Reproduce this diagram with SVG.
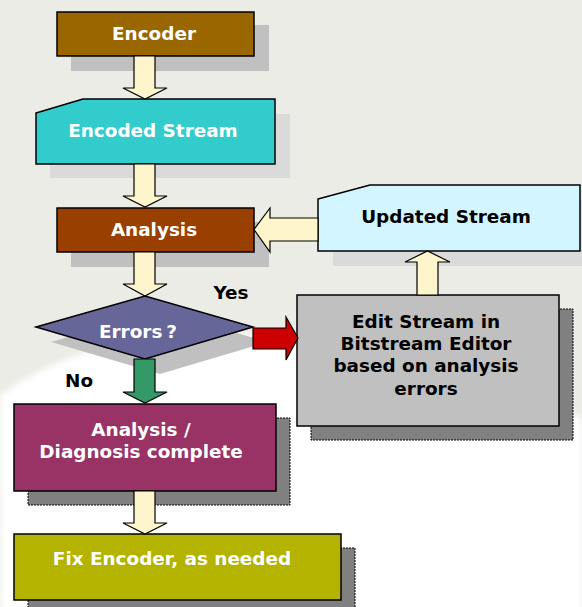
<svg xmlns="http://www.w3.org/2000/svg" width="582" height="607" viewBox="0 0 582 607">
<style>
.t{font-family:"DejaVu Sans",Verdana,sans-serif;font-weight:bold;font-size:18.4px;text-anchor:middle}
.w{fill:#ffffff}
.k{fill:#000000}
.box{stroke:#000;stroke-width:1.5}
.sh1{fill:#C0C0C0}
.sh2{fill:#DADADA}
.sh3{fill:#808080;stroke:#000;stroke-width:1;stroke-dasharray:2,1}
.arr{fill:#FFF5CC;stroke:#000;stroke-width:1.2}
</style>
<defs>
<filter id="blur" x="-10%" y="-10%" width="120%" height="120%"><feGaussianBlur stdDeviation="3"/></filter>
</defs>
<rect width="582" height="607" fill="#ECECE6"/>
<path d="M0,395 C40,368 90,345 160,335 C260,322 420,360 582,418 L582,620 L0,620 Z" fill="#ffffff" filter="url(#blur)"/>

<g id="encoder">
<rect class="sh1" x="71" y="25" width="198" height="46"/>
<rect class="box" x="57" y="12" width="197" height="44" fill="#996600"/>
<text class="t w" x="154" y="40">Encoder</text>
</g>

<g id="encoded-stream">
<rect class="sh2" x="50" y="114" width="240" height="64"/>
<polygon class="box" points="36,113 83,99 275,99 275,164 36,164" fill="#33CCCC"/>
<text class="t w" x="153" y="137">Encoded Stream</text>
</g>

<g id="analysis">
<rect class="sh1" x="71" y="222" width="198" height="45"/>
<rect class="box" x="57" y="208" width="197" height="44" fill="#993F00"/>
<text class="t w" x="154" y="236">Analysis</text>
</g>

<g id="errors">
<polygon class="sh1" points="51,342 160,311 268,342 160,374"/>
<polygon class="box" points="36,327 145,296 253,327 145,359" fill="#666699"/>
<text class="t w" x="138" y="338">Errors<tspan dx="4">?</tspan></text>
</g>

<g id="updated-stream">
<rect class="sh2" x="333" y="200" width="260" height="66"/>
<polygon class="box" points="318,199 370,185 580,185 580,251 318,251" fill="#D3F5FF"/>
<text class="t k" x="446" y="223">Updated Stream</text>
</g>

<g id="edit-stream">
<rect class="sh3" x="311" y="309" width="262" height="131"/>
<rect class="box" x="297" y="295" width="262" height="131" fill="#C0C0C0"/>
<text class="t k" x="426" y="328">Edit Stream in</text>
<text class="t k" x="426" y="350">Bitstream Editor</text>
<text class="t k" x="426" y="372">based on analysis</text>
<text class="t k" x="426" y="395">errors</text>
</g>

<g id="diagnosis-complete">
<rect class="sh3" x="28" y="418" width="262" height="87"/>
<rect class="box" x="14" y="404" width="262" height="87" fill="#993366"/>
<text class="t w" x="141" y="436">Analysis /</text>
<text class="t w" x="141" y="458">Diagnosis complete</text>
</g>

<g id="fix-encoder">
<rect class="sh3" x="28" y="548" width="327" height="66"/>
<rect class="box" x="14" y="534" width="327" height="66" fill="#B3B300"/>
<text class="t w" x="172" y="565">Fix Encoder, as needed</text>
</g>

<g id="connectors">
<polygon class="arr" points="134,56 155,56 155,88 167,88 145,99 123,88 134,88"/>
<polygon class="arr" points="134,164 155,164 155,196 167,196 145,207 123,196 134,196"/>
<polygon class="arr" points="134,252 155,252 155,284 167,284 145,296 123,284 134,284"/>
<polygon points="134,359 155,359 155,392 167,392 145,403 123,392 134,392" fill="#339966" stroke="#000" stroke-width="1.2"/>
<polygon points="253,328 286,328 286,317 298,338 286,360 286,349 253,349" fill="#CC0000" stroke="#000" stroke-width="1.2"/>
<polygon class="arr" points="417,295 417,262 405,262 427.5,251 450,262 438,262 438,295"/>
<polygon class="arr" points="318,218 270,218 270,208 254,229.5 270,252 270,241 318,241"/>
<polygon class="arr" points="134,491 155,491 155,523 167,523 145,534 123,523 134,523"/>
<text class="t k" x="231" y="299">Yes</text>
<text class="t k" x="79" y="387">No</text>
</g>
</svg>
